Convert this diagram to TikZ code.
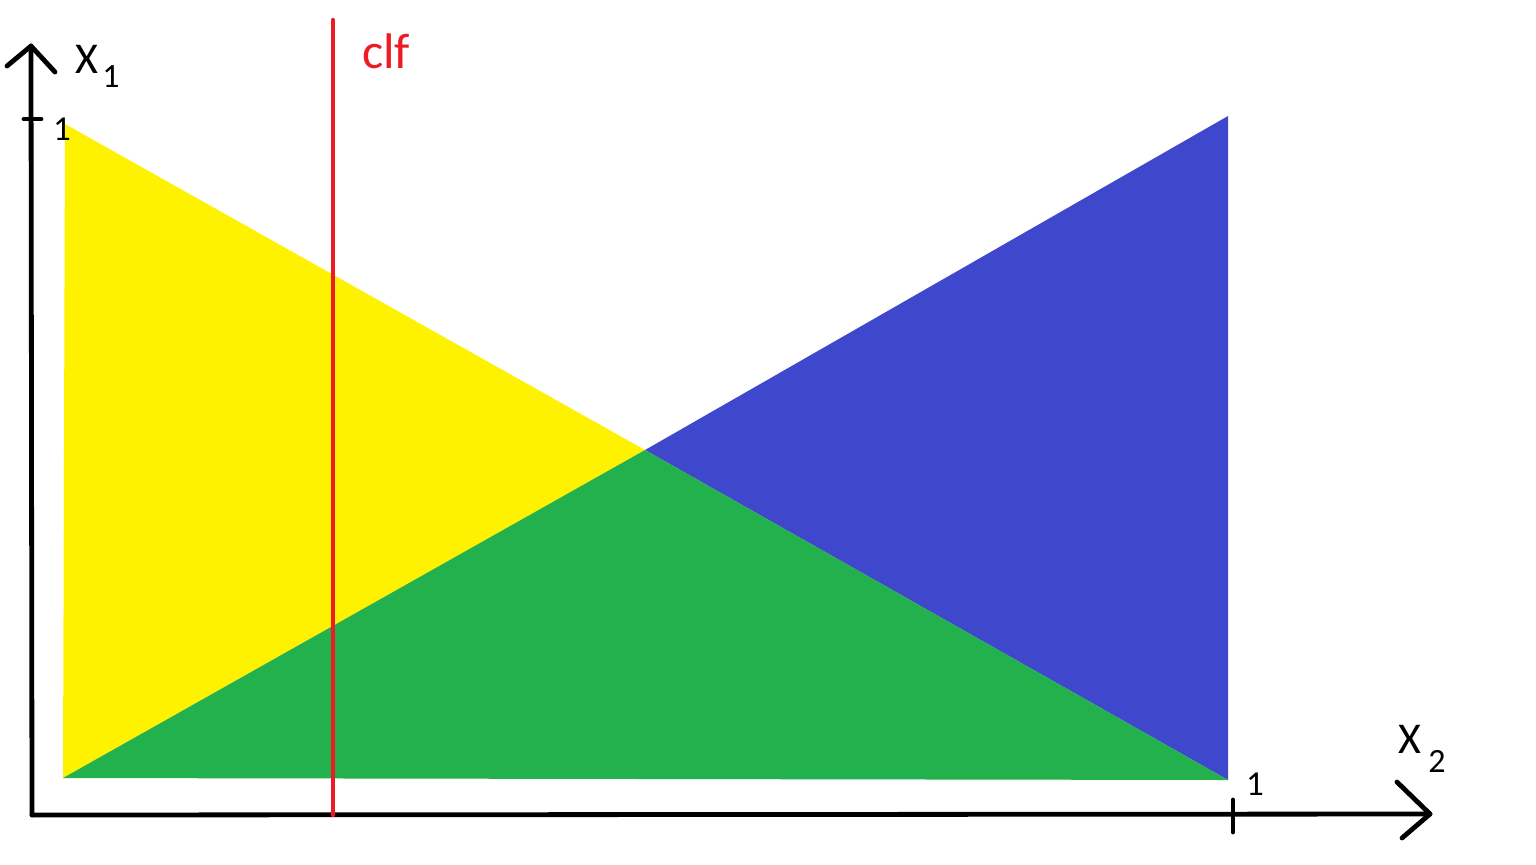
\documentclass[tikz,border=0pt]{standalone}
\usepackage{fontspec}
\setmainfont{Carlito}
\definecolor{pyellow}{HTML}{FFF200}
\definecolor{pgreen}{HTML}{22B14C}
\definecolor{pblue}{HTML}{3F48CC}
\definecolor{pred}{HTML}{ED1C24}
\begin{document}
\begin{tikzpicture}[x=0.5pt,y=-0.5pt,
  axis/.style={line width=2.4pt,black,line cap=round,line join=round},
  bigtxt/.style={inner sep=0pt,anchor=base,font=\fontsize{22}{26}\selectfont},
  subtxt/.style={inner sep=0pt,anchor=base,font=\fontsize{17}{20}\selectfont},
  ticktxt/.style={inner sep=0pt,anchor=base,font=\fontsize{17.5}{20}\selectfont}]
\path[use as bounding box,fill=white] (0,0) rectangle (1536,864);
% region corners
\coordinate (ytop) at (65,124);
\coordinate (ybot) at (63,778);
\coordinate (mid) at (645,450);
\coordinate (btop) at (1228,116);
\coordinate (bbot) at (1228,780);
\fill[pyellow] (ytop) -- (mid) -- (ybot) -- cycle;
\fill[pblue] (btop) -- (bbot) -- (mid) -- cycle;
\fill[pgreen] (ybot) -- (mid) -- (bbot) -- cycle;
% axes
\coordinate (origin) at (32,815);
\coordinate (yend) at (31,46);
\coordinate (xend) at (1430,814);
\draw[axis] (origin) -- (yend);
\draw[axis] (origin) -- (xend);
\coordinate (yl) at (7,66);
\coordinate (yr) at (55,72);
\draw[axis] (yl) -- (yend) -- (yr);
\coordinate (xu) at (1397,782);
\coordinate (xd) at (1402,838);
\draw[axis] (xu) -- (xend) -- (xd);
% ticks
\coordinate (yt1) at (24,119);
\coordinate (yt2) at (41,119);
\draw[axis] (yt1) -- (yt2);
\coordinate (xt1) at (1233,800);
\coordinate (xt2) at (1233,832);
\draw[axis] (xt1) -- (xt2);
% classifier line
\coordinate (clftop) at (333,20);
\coordinate (clfbot) at (333,815);
\draw[pred,line width=2.2pt,line cap=round] (clftop) -- (clfbot);
\node[bigtxt,text=pred,font=\fontsize{25}{30}\selectfont] (clf) at (386,68) {clf};
% labels
\node[bigtxt] (x1) at (87,73) {X};
\node[subtxt] (x1s) at (111,87) {1};
\node[ticktxt] (y1) at (62,140) {1};
\node[bigtxt] (x2) at (1410,753) {X};
\node[subtxt] (x2s) at (1437,772) {2};
\node[ticktxt] (x1t) at (1255,795) {1};
\end{tikzpicture}
\end{document}
